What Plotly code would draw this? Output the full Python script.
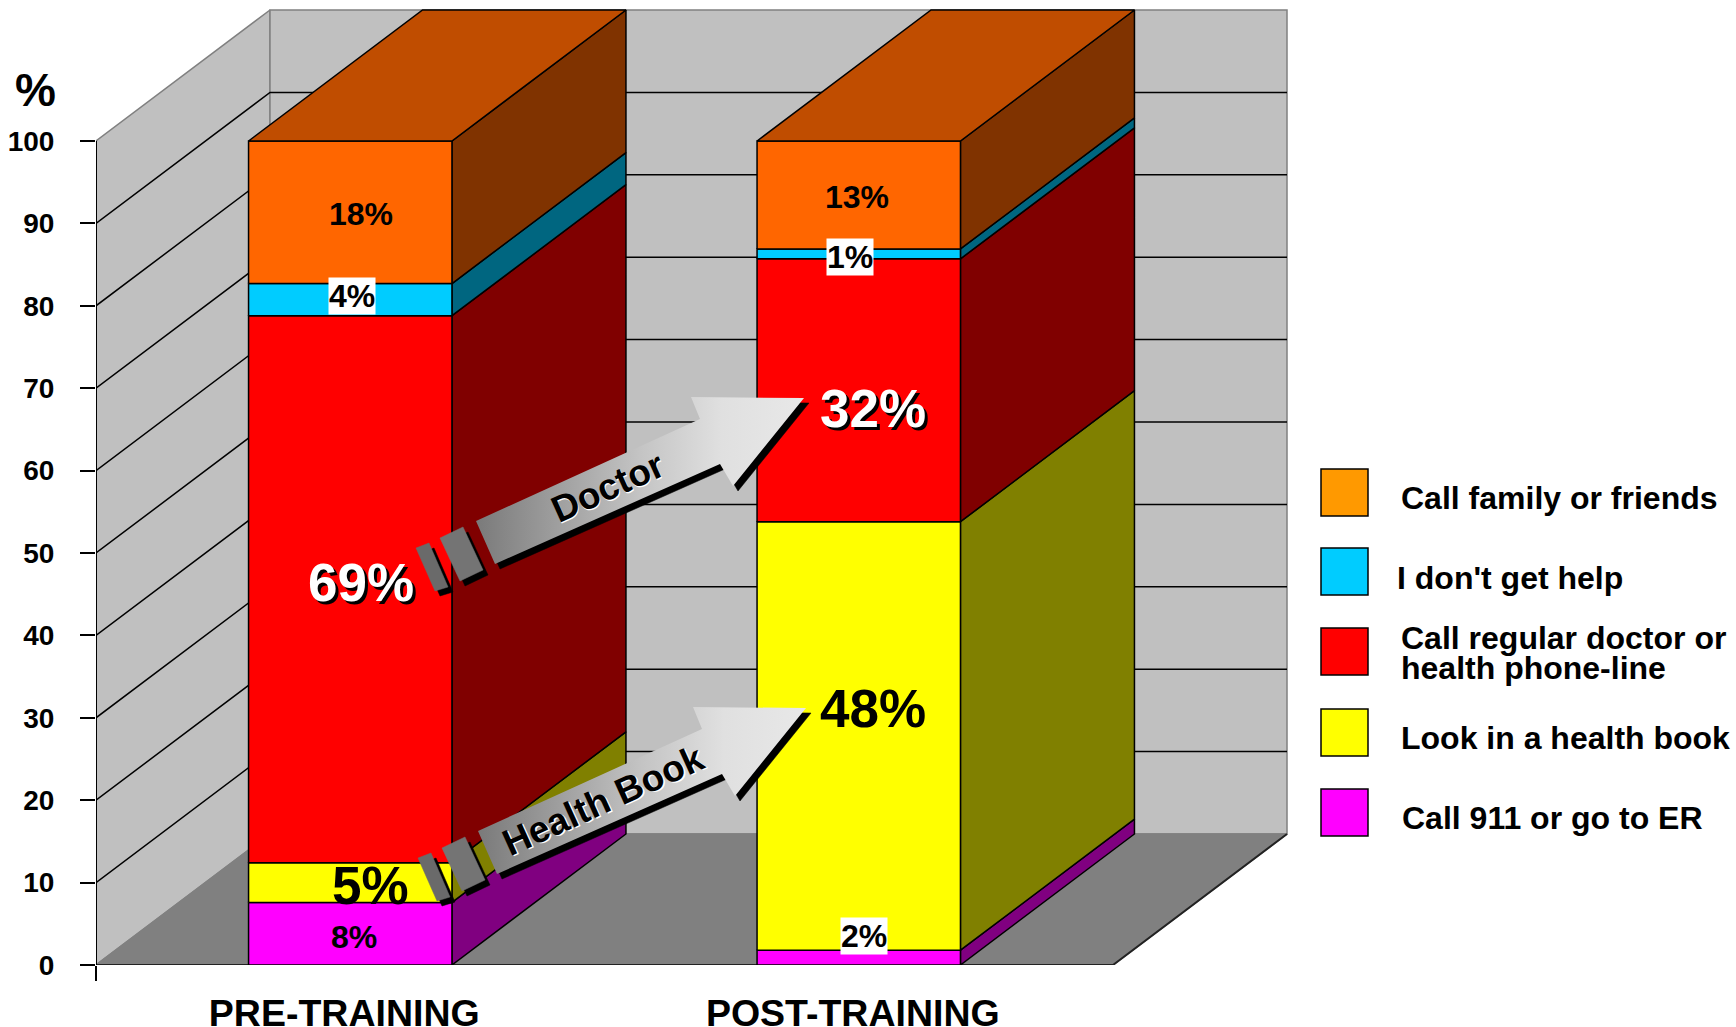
import plotly.graph_objects as go

# ---- data ----
groups = ["PRE-TRAINING", "POST-TRAINING"]
series = ["Call 911 or go to ER", "Look in a health book", "Call regular doctor or health phone-line",
          "I don't get help", "Call family or friends"]
pre_values = [7.6, 4.8, 66.4, 3.9, 17.3]
post_values = [1.8, 52.0, 31.9, 1.2, 13.1]
pre_labels = ["8%", "5%", "69%", "4%", "18%"]
post_labels = ["2%", "48%", "32%", "1%", "13%"]
y_ticks = [0, 10, 20, 30, 40, 50, 60, 70, 80, 90, 100]

front_colors = ["#FF00FF", "#FFFF00", "#FF0000", "#00CCFF", "#FF6600"]
side_colors = ["#800080", "#808000", "#800000", "#006680", "#803300"]
top_color = "#C04D00"
legend_colors = ["#FF00FF", "#FFFF00", "#FF0000", "#00CCFF", "#FF9900"]

# ---- geometry ----
W, H = 1736, 1027
PX_UNIT = 508.5
X_ORIGIN = 350.25
Y_ZERO = 965
PX_PCT = 8.24
DX = 174 / PX_UNIT
DY = 131 / PX_PCT
BAR = 0.4
X0, X1 = -0.5, 1.5
FONT = "Liberation Sans"


def U(px):
    return (px - X_ORIGIN) / PX_UNIT


def V(py):
    return (Y_ZERO - py) / PX_PCT


fig = go.Figure()


def poly(xs, ys, fill, line="black", lw=1.5, **kw):
    fig.add_trace(go.Scatter(x=list(xs) + [xs[0]], y=list(ys) + [ys[0]], mode="lines", fill="toself",
                             fillcolor=fill, line=dict(color=line, width=lw), hoverinfo="skip",
                             showlegend=False, **kw))


def seg(xs, ys, color="black", lw=1.5):
    fig.add_trace(go.Scatter(x=xs, y=ys, mode="lines", line=dict(color=color, width=lw),
                             hoverinfo="skip", showlegend=False))


# walls and floor
GRAY = "#808080"
poly([X0, X0 + DX, X0 + DX, X0], [0, DY, 100 + DY, 100], "#C0C0C0", GRAY)
poly([X0 + DX, X1 + DX, X1 + DX, X0 + DX], [DY, DY, 100 + DY, 100 + DY], "#C0C0C0", GRAY)
poly([X0, X0 + DX, X1 + DX, X1], [0, DY, DY, 0], GRAY, GRAY)
for t in y_ticks[1:-1]:
    seg([X0, X0 + DX, X1 + DX], [t, t + DY, t + DY], "black", 1.5)
seg([X0, X1, X1 + DX], [0, 0, DY], "#222222", 2)
seg([X0, X0], [0, 100], "black", 2)

# bars
for j, vals in enumerate([pre_values, post_values]):
    l, r = j - BAR / 2, j + BAR / 2
    base = 0
    for i, v in enumerate(vals):
        top = base + v
        poly([r, r + DX, r + DX, r], [base, base + DY, top + DY, top], side_colors[i])
        poly([l, r, r, l], [base, base, top, top], front_colors[i])
        base = top
    poly([l, r, r + DX, l + DX], [base, base, base + DY, base + DY], top_color)

# arrows (overlay callouts)
ARROW = [(495, 564), (476, 521), (700, 419), (691, 397), (804, 398), (733, 486), (720, 464)]
PIECE2 = [(440, 538), (463, 527), (483, 570), (460, 581)]
PIECE3 = [(416, 548), (429, 543), (448, 587), (435, 591)]
for oy, ox in [(0, 0), (310, 2)]:
    for shape, gray in [(PIECE3, "#6a6a6a"), (PIECE2, "#747474"), (ARROW, None)]:
        sx = [U(p[0] + ox + 5) for p in shape]
        sy = [V(p[1] + oy + 5) for p in shape]
        poly(sx, sy, "black", "black", 0.5)
        mx = [U(p[0] + ox) for p in shape]
        my = [V(p[1] + oy) for p in shape]
        if gray:
            poly(mx, my, gray, gray, 0.5)
        else:
            fig.add_trace(go.Scatter(x=mx + [mx[0]], y=my + [my[0]], mode="lines", fill="toself",
                                     line=dict(width=0),
                                     fillgradient=dict(type="horizontal",
                                                       colorscale=[[0, "#7a7a7a"], [0.5, "#c4c4c4"], [0.75, "#e0e0e0"], [1, "#e8e8e8"]]),
                                     hoverinfo="skip", showlegend=False))

# invisible trace that keeps the second x axis (corner tick) alive
fig.add_trace(go.Scatter(x=[X0], y=[0], xaxis="x2", mode="markers", marker=dict(opacity=0),
                         hoverinfo="skip", showlegend=False))


def text(px, py, s, size, color="black", bg=None, angle=0, xanchor="center"):
    fig.add_annotation(x=U(px), y=V(py), text=s, showarrow=False, xanchor=xanchor, yanchor="middle",
                       textangle=angle, bgcolor=bg, borderpad=0,
                       font=dict(family=FONT, size=size, color=color, weight=700))


# data labels
text(354, 937, pre_labels[0], 32)
text(370, 885, pre_labels[1], 53)
text(364, 585, pre_labels[2], 53, "black")
text(361, 582, pre_labels[2], 53, "white")
text(352, 296, pre_labels[3], 32, bg="white")
text(361, 214, pre_labels[4], 32)
text(864, 936, post_labels[0], 32, bg="white")
text(873, 708, post_labels[1], 53)
text(876, 411, post_labels[2], 53, "black")
text(873, 408, post_labels[2], 53, "white")
text(850, 257, post_labels[3], 32, bg="white")
text(857, 197, post_labels[4], 32)

# arrow captions
text(608.5, 488.5, "Doctor", 37, "white", angle=-24.4)
text(607, 487, "Doctor", 37, "black", angle=-24.4)
text(604.5, 801.5, "Health Book", 37, "white", angle=-24.4)
text(603, 800, "Health Book", 37, "black", angle=-24.4)

# percent sign (left of the plot area, so placed in paper space)
fig.add_annotation(xref="paper", yref="paper", x=(35 - 96) / (W - 96), y=1 - 90 / Y_ZERO, text="%",
                   showarrow=False, xanchor="center", yanchor="middle",
                   font=dict(family=FONT, size=46, color="black", weight=700))

# legend
rows = [(789, "Call 911 or go to ER", 1401, 818), (709, "Look in a health book", 1400, 738),
        (628, "Call regular doctor or", 1400, 638), (548, "I don't get help", 1396, 578),
        (469, "Call family or friends", 1400, 498)]
for i, (py, label, tx, ty) in enumerate(rows):
    fig.add_shape(type="rect", xref="x", yref="y", x0=U(1321), x1=U(1368), y0=V(py), y1=V(py + 47),
                  fillcolor=legend_colors[i], line=dict(color="black", width=1.5))
    text(tx, ty, label, 32, xanchor="left")
text(1400, 668, "health phone-line", 32, xanchor="left")

LABEL_SHIFT = -6 / PX_UNIT
x_range = [X0, U(W)]
fig.update_layout(
    width=W, height=H, margin=dict(l=96, r=0, t=0, b=H - Y_ZERO, pad=0, autoexpand=False),
    paper_bgcolor="white", plot_bgcolor="white", showlegend=False,
    xaxis=dict(range=x_range, showgrid=False, zeroline=False, showline=False, ticks="", automargin=False,
               tickvals=[k + LABEL_SHIFT for k in range(len(groups))], ticktext=groups,
               tickfont=dict(family=FONT, size=37.5, color="black", weight=700), ticklabelstandoff=22,
               tickangle=0),
    xaxis2=dict(range=x_range, overlaying="x", anchor="y", side="bottom", showgrid=False, zeroline=False,
                showline=False, ticks="outside", ticklen=15, tickwidth=2, tickcolor="black", automargin=False,
                tickvals=[X0], ticktext=[""]),
    yaxis=dict(range=[0, Y_ZERO / PX_PCT], showgrid=False, zeroline=False, showline=False, ticks="outside",
               ticklen=15, tickwidth=2, tickcolor="black", tickvals=y_ticks, ticktext=[str(t) for t in y_ticks],
               automargin=False,
               tickfont=dict(family=FONT, size=28, color="black", weight=700), ticklabelstandoff=20),
)
fig.write_html("out.html", config=dict(displayModeBar=False),
               post_script="document.body.style.margin='0';")
